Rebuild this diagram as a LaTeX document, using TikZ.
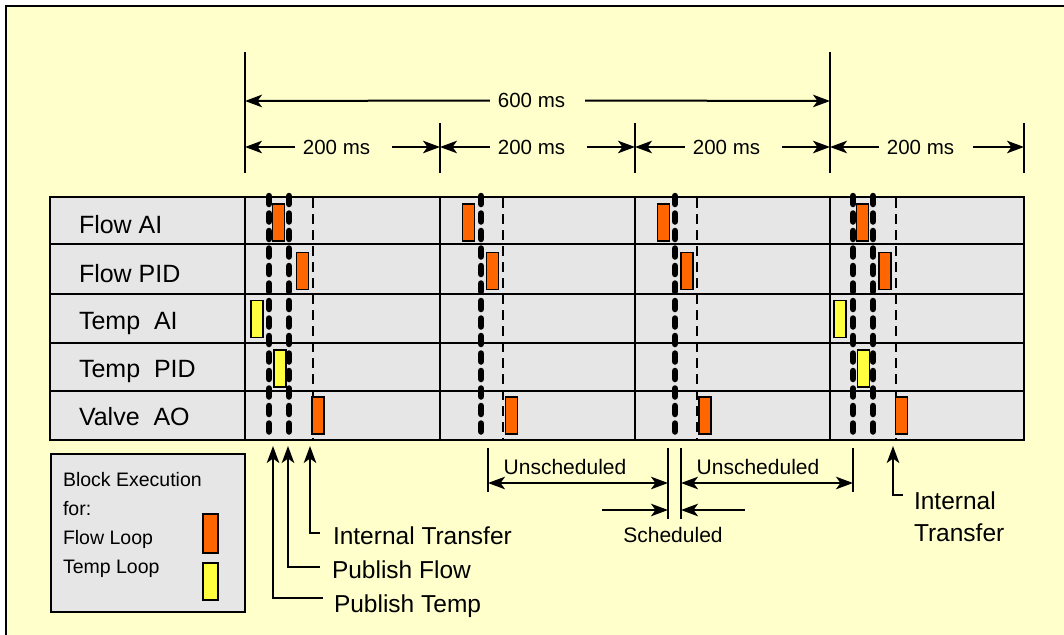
\documentclass[tikz,border=0pt]{standalone}
\usepackage{fontspec}
\setmainfont{Liberation Sans}
\usetikzlibrary{arrows.meta}
\definecolor{bgyellow}{HTML}{FFFFCC}
\definecolor{tablegray}{HTML}{E6E6E6}
\definecolor{floworange}{HTML}{FF6600}
\definecolor{tempyellow}{HTML}{FFFF40}
\begin{document}
\begin{tikzpicture}[x=1pt,y=-1pt,
  every node/.style={inner sep=0pt,outer sep=0pt},
  rowlbl/.style={anchor=base west,font=\fontsize{25}{30}\selectfont},
  dimlbl/.style={font=\fontsize{20.5}{24}\selectfont},
  notelbl/.style={font=\fontsize{24.5}{32}\selectfont},
  smalllbl/.style={font=\fontsize{21}{25}\selectfont},
  gridline/.style={line width=2pt},
  tickline/.style={line width=2pt},
  arr/.style={line width=2pt,-{Stealth[length=17pt,width=12.5pt,inset=4.5pt]}},
  arrboth/.style={line width=2pt,{Stealth[length=17pt,width=12.5pt,inset=4.5pt]}-{Stealth[length=17pt,width=12.5pt,inset=4.5pt]}},
  publine/.style={line width=6.5pt,line cap=round,dash pattern=on 8pt off 9.5pt},
  xferline/.style={line width=1.7pt,dash pattern=on 10pt off 6pt},
  blk/.style={draw,line width=1.4pt,minimum width=12pt,minimum height=37pt},
  flowblk/.style={blk,fill=floworange},
  tempblk/.style={blk,fill=tempyellow},
]
\fill[white] (0,0) rectangle (1064,634);
\useasboundingbox (0,0) rectangle (1064,634);
\clip (0,0) rectangle (1064,634);
\draw[line width=2pt,fill=bgyellow] (6,6) rectangle (1080,650);

% ---- top dimension lines ----
\foreach \x/\n in {245/k0,440/k1,635/k2,830/k3,1024/k4}{
  \coordinate (\n) at (\x,147);
}
\coordinate (m0) at (245,101);
\coordinate (m1) at (830,101);
\draw[tickline] (245,52) -- (245,173);
\draw[tickline] (830,52) -- (830,173);
\draw[tickline] (440,123) -- (440,173);
\draw[tickline] (635,123) -- (635,173);
\draw[tickline] (1024,123) -- (1024,173);

\node[dimlbl] (t600) at (531.5,100.5) {600 ms};
\draw[arr] ([xshift=-8pt]t600.west) -- (m0);
\draw[arr] ([xshift=20pt]t600.east) -- (m1);

\node[dimlbl] (d1) at (336.5,147) {200 ms};
\node[dimlbl] (d2) at (531.5,147) {200 ms};
\node[dimlbl] (d3) at (726.5,147) {200 ms};
\node[dimlbl] (d4) at (920.5,147) {200 ms};
\draw[arr] ([xshift=-8pt]d1.west) -- (k0);
\draw[arr] ([xshift=22pt]d1.east) -- (k1);
\draw[arr] ([xshift=-8pt]d2.west) -- (k1);
\draw[arr] ([xshift=22pt]d2.east) -- (k2);
\draw[arr] ([xshift=-8pt]d3.west) -- (k2);
\draw[arr] ([xshift=22pt]d3.east) -- (k3);
\draw[arr] ([xshift=-8pt]d4.west) -- (k3);
\draw[arr] ([xshift=19pt]d4.east) -- (k4);

% ---- table ----
\fill[tablegray] (50,197) rectangle (1024,440);
\foreach \y in {244,294,343,391}{
  \draw[gridline] (50,\y) -- (1024,\y);
}
\foreach \x in {245,440,635,830}{
  \draw[gridline] (\x,197) -- (\x,440);
}
\draw[gridline] (50,197) rectangle (1024,440);

\node[rowlbl] (r1) at (79,233) {Flow AI};
\node[rowlbl] (r2) at (79,282) {Flow PID};
\node[rowlbl] (r3) at (79,329.5) {Temp\ \ AI};
\node[rowlbl] (r4) at (79,377) {Temp\ \ PID};
\node[rowlbl] (r5) at (79,425) {Valve\ \ AO};

% ---- publish / transfer lines ----
\foreach \x in {269,289,481,675,853,873}{
  \draw[publine] (\x,196) -- (\x,438);
}
\foreach \x in {313,503,697,896}{
  \draw[xferline] (\x,198) -- (\x,440);
}

% ---- blocks ----
\node[flowblk] (fai1) at (278.5,222.5) {};
\node[flowblk] (fpid1) at (302.5,271) {};
\node[tempblk] (tai1) at (257,319) {};
\node[tempblk] (tpid1) at (280,368.5) {};
\node[flowblk] (vao1) at (318,415.5) {};

\node[flowblk] (fai2) at (468.5,222.5) {};
\node[flowblk] (fpid2) at (492.5,271) {};
\node[flowblk] (vao2) at (511.5,415.5) {};

\node[flowblk] (fai3) at (663.5,222.5) {};
\node[flowblk] (fpid3) at (687,271) {};
\node[flowblk] (vao3) at (705,415.5) {};

\node[flowblk] (fai4) at (862.5,222.5) {};
\node[flowblk] (fpid4) at (885,271) {};
\node[tempblk] (tai4) at (840,319) {};
\node[tempblk] (tpid4) at (863.5,368.5) {};
\node[flowblk] (vao4) at (901.5,415.5) {};

% ---- bottom-left annotations ----
\coordinate (tipPT) at (273,446);
\coordinate (tipPF) at (288,446);
\coordinate (tipIT) at (310,446);
\node[notelbl,anchor=base west] (lIT) at (333,544) {Internal Transfer};
\node[notelbl,anchor=base west] (lPF) at (332,578) {Publish Flow};
\node[notelbl,anchor=base west] (lPT) at (334,612) {Publish Temp};
\draw[arr] ([xshift=-13pt,yshift=11pt]lIT.base west) -| (tipIT);
\draw[arr] ([xshift=-12pt,yshift=11pt]lPF.base west) -| (tipPF);
\draw[arr] ([xshift=-11pt,yshift=14pt]lPT.base west) -| (tipPT);

% ---- right annotation ----
\coordinate (tipIR) at (893,446);
\node[notelbl,anchor=west,align=left] (lIR) at (914,517) {Internal\\Transfer};
\draw[arr] ([xshift=-11pt,yshift=22pt]lIR.west) -| (tipIR);

% ---- unscheduled / scheduled ----
\coordinate (u0) at (488,483);
\coordinate (u1) at (668,483);
\coordinate (u2) at (681,483);
\coordinate (u3) at (853,483);
\draw[tickline] (488,448) -- (488,492);
\draw[tickline] (853,448) -- (853,492);
\draw[tickline] (668,448) -- (668,519);
\draw[tickline] (681,448) -- (681,519);
\node[smalllbl,anchor=base] (un1) at (565,474) {Unscheduled};
\node[smalllbl,anchor=base] (un2) at (758,474) {Unscheduled};
\draw[arrboth] (u0) -- (u1);
\draw[arrboth] (u2) -- (u3);
\node[smalllbl,anchor=base] (sch) at (673,542) {Scheduled};
\coordinate (s0) at (602,510);
\coordinate (s1) at (668,510);
\coordinate (s2) at (681,510);
\coordinate (s3) at (745,510);
\draw[arr] (s0) -- (s1);
\draw[arr] (s3) -- (s2);

% ---- legend ----
\node[draw,line width=2pt,fill=tablegray,anchor=north west,minimum width=194pt,minimum height=158pt] (legend) at (51,454) {};
\node[anchor=north west,align=left,font=\fontsize{19.5}{29}\selectfont] (legtxt) at (63,472) {Block Execution\\for:\\Flow Loop\\Temp Loop};
\node[flowblk,minimum width=15pt,minimum height=39pt] (legflow) at (210.5,533.5) {};
\node[tempblk,minimum width=15pt,minimum height=37pt] (legtemp) at (210.5,581.5) {};
\end{tikzpicture}
\end{document}
